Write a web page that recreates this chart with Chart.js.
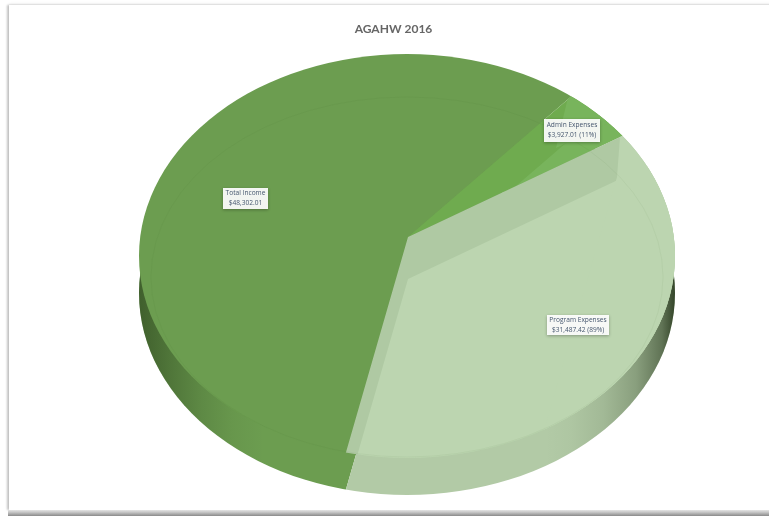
<!DOCTYPE html>
<html><head><meta charset="utf-8">
<script src="https://cdn.jsdelivr.net/npm/chart.js@4"></script>
<style>
html,body{margin:0;padding:0;background:#fff;width:769px;height:516px;overflow:hidden}
#frame{position:absolute;left:9px;top:5px;width:800px;height:505px;background:#fff;
box-shadow:-2px 0 2px rgba(0,0,0,.22),0 -1px 3px rgba(0,0,0,.08)}
#foot{position:absolute;left:8px;top:510px;width:770px;height:6px;background:linear-gradient(#e4e4e4,#c4c4c4 40%,#8a8a8a)}
#wrap{position:absolute;left:0;top:0;width:769px;height:516px;filter:blur(.55px)}
</style></head><body>
<div id="frame"></div><div id="foot"></div>
<div id="wrap"><canvas id="c" width="769" height="516"></canvas></div>
<script>
const chartTitle = 'AGAHW 2016';
const categories = ['Total Income', 'Admin Expenses', 'Program Expenses'];
const values = [48302.01, 3927.01, 31487.42];
const valueTexts = ['$48,302.01', '$3,927.01 (11%)', '$31,487.42 (89%)'];
const faceColors = ['#6c9d50', '#6fab4f', '#afc9a3'];
const innerColors = ['#6c9d50', '#78b45c', '#bcd5b0'];
const wallColors = ['#6c9d50', '#6fab4f', '#b2caa6'];
const startAngle = 191.4;

// view geometry (styling of the pseudo-3D projection)
const view = {apexX:408, apexY:237, tilt:.7, rimX:407, rimY:256, rx:268, ry:202, depth:37, innerShift:42, innerRimY:277, innerRx:256, innerRy:180};
const labelBoxes = [{x:245.5,y:198.5,w:45,h:21},{x:572,y:130.5,w:56,h:23},{x:578,y:325,w:62,h:20}];
const kinks = [null,{x:556,y:148,a:4.876},{x:617,y:177,a:4.765}];

function ell(ctx,cx,cy,rx,ry){ctx.beginPath();ctx.ellipse(cx,cy,rx,ry,0,0,Math.PI*2);}
function drawArc(ctx,el,color,dx,dy,startOverride){
  ctx.save();
  ctx.translate(view.apexX+dx,view.apexY+dy);
  ctx.scale(1,view.tilt);
  ctx.translate(-el.x,-el.y);
  const s=el.startAngle,bg=el.options.backgroundColor;
  el.options.backgroundColor=color;
  if(startOverride!==undefined){el.startAngle=startOverride;}
  el.draw(ctx);
  el.startAngle=s;el.options.backgroundColor=bg;
  ctx.restore();
}
function shade(ctx,from,to,h,stops){
  const g=ctx.createLinearGradient(from,0,to,0);
  stops.forEach(p=>g.addColorStop(p[0],'rgba(20,35,10,'+p[1]+')'));
  ctx.fillStyle=g;ctx.fillRect(Math.min(from,to),0,Math.abs(to-from),h);
}
const pie3d={id:'pie3d',
 beforeDatasetsDraw(chart){
  const ctx=chart.ctx,arcs=chart.getDatasetMeta(0).data,v=view;
  // side wall
  ctx.save();
  ell(ctx,v.rimX,v.rimY+v.depth,v.rx,v.ry);ctx.clip();
  arcs.forEach((a,i)=>drawArc(ctx,a,wallColors[i],0,v.depth));
  shade(ctx,v.rimX-v.rx,v.rimX-v.rx+125,chart.height,[[0,.5],[.25,.32],[.5,.16],[.75,.05],[1,0]]);
  shade(ctx,v.rimX+v.rx,v.rimX+v.rx-130,chart.height,[[0,.8],[.1,.52],[.3,.26],[.55,.1],[.8,.025],[1,0]]);
  ctx.restore();
  // top face
  ctx.save();
  ell(ctx,v.rimX,v.rimY,v.rx,v.ry);ctx.clip();
  drawArc(ctx,arcs[0],faceColors[0],0,0);
  [1,2].forEach(i=>{
    const a=arcs[i],k=kinks[i];
    drawArc(ctx,a,faceColors[i],0,0);
    ctx.save();
    // inner facet stays inside its own slice
    ctx.translate(v.apexX,v.apexY);ctx.scale(1,v.tilt);
    ctx.beginPath();ctx.moveTo(0,0);ctx.arc(0,0,a.outerRadius,a.startAngle,a.endAngle);ctx.closePath();
    ctx.setTransform(1,0,0,1,0,0);ctx.clip();
    drawArc(ctx,a,innerColors[i],0,v.innerShift);
    drawArc(ctx,a,innerColors[i],k.x-v.apexX,k.y-v.apexY,k.a);
    ctx.restore();
  });
  ctx.lineWidth=1;ctx.strokeStyle='rgba(60,90,40,.05)';
  ell(ctx,v.rimX,v.innerRimY,v.innerRx,v.innerRy);ctx.stroke();
  ctx.restore();
  return false;
 },
 afterDraw(chart){
  const ctx=chart.ctx;
  ctx.save();
  labelBoxes.forEach((b,i)=>{
    ctx.save();
    ctx.shadowColor='rgba(0,0,0,.3)';ctx.shadowBlur=3;ctx.shadowOffsetY=1;
    ctx.fillStyle='rgba(255,255,255,.93)';
    ctx.fillRect(b.x-b.w/2,b.y-b.h/2,b.w,b.h);
    ctx.restore();
    ctx.fillStyle='#45566e';ctx.font='6.6px "Open Sans"';ctx.textAlign='center';ctx.textBaseline='middle';
    ctx.fillText(categories[i],b.x,b.y-5);
    ctx.fillText(valueTexts[i],b.x,b.y+5);
  });
  ctx.restore();
 }
};
new Chart(document.getElementById('c'),{
 type:'pie',
 data:{labels:categories,datasets:[{data:values,backgroundColor:faceColors,borderWidth:0,radius:450,rotation:startAngle}]},
 options:{responsive:false,animation:false,
  layout:{padding:{left:18,right:0,top:22,bottom:0}},
  plugins:{legend:{display:false},tooltip:{enabled:false},
   title:{display:true,text:chartTitle,color:'#666666',font:{family:'Lato',size:12,weight:'bold'},padding:{top:0,bottom:0}}}},
 plugins:[pie3d]
});
</script></body></html>
